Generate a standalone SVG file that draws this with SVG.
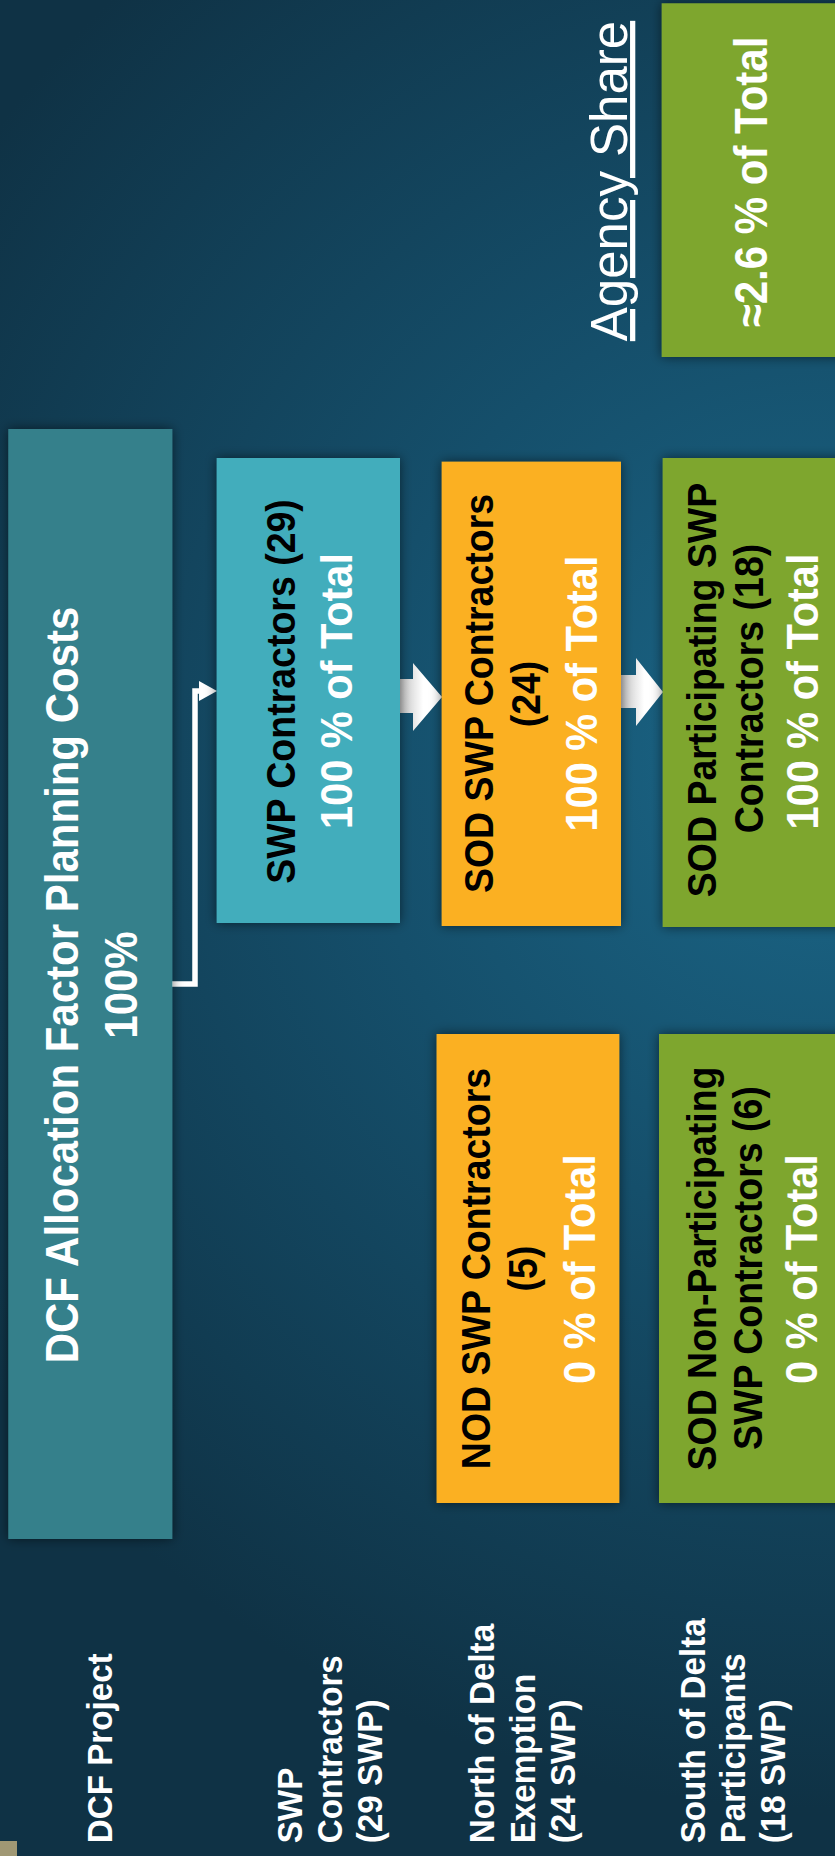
<svg xmlns="http://www.w3.org/2000/svg" width="835" height="1856" viewBox="0 0 835 1856">
<defs>
<radialGradient id="bg" cx="835" cy="760" r="1050" gradientUnits="userSpaceOnUse">
<stop offset="0" stop-color="#1B6788"/>
<stop offset="0.45" stop-color="#154F6B"/>
<stop offset="1" stop-color="#0F3245"/>
</radialGradient>
<linearGradient id="arr" x1="0" y1="0" x2="1" y2="0">
<stop offset="0" stop-color="#c4c4c4"/>
<stop offset="0.55" stop-color="#ffffff"/>
<stop offset="1" stop-color="#ffffff"/>
</linearGradient>
<filter id="sh" x="-20%" y="-20%" width="140%" height="140%">
<feDropShadow dx="0" dy="0" stdDeviation="6" flood-color="#000" flood-opacity="0.55"/>
</filter>
<marker id="tri" markerUnits="userSpaceOnUse" markerWidth="18" markerHeight="20" refX="0" refY="10" orient="auto">
<path d="M0,0 L18,10 L0,20 z" fill="#fff"/>
</marker>
<style>
.t{font-family:"Liberation Sans",Arial,Helvetica,sans-serif;font-weight:bold}
.r{font-family:"Liberation Sans",Arial,Helvetica,sans-serif;font-weight:normal}
.w{fill:#fff}
.k{fill:#000}
.box{filter:url(#sh)}
.m{text-anchor:middle}
.s{text-anchor:start}
.f1{font-size:37.5px}
.f2{font-size:41.5px}
.f3{font-size:42px}
.f4{font-size:33.2px}
</style>
</defs>
<rect width="835" height="1856" fill="url(#bg)"/>
<rect x="0" y="1841" width="17" height="15" fill="#A09874"/>

<g id="connectors">
<path d="M172,984 H195 V691 H199" fill="none" stroke="#fff" stroke-width="5.5" marker-end="url(#tri)"/>
<polygon points="400,679 413,679 413,663 442,697 413,731 413,713 400,713" fill="url(#arr)"/>
<polygon points="621,675 636,675 636,658 663,692 636,726 636,708 621,708" fill="url(#arr)"/>
</g>

<g id="agency-share">
<text class="r w m" font-size="51" text-decoration="underline" transform="translate(627,181) rotate(-90) scale(1,1.03)">Agency Share</text>
</g>

<g id="agency-share-box">
<rect class="box" x="661.7" y="3.3" width="190" height="353.7" fill="#7EA62E"/>
<text class="t w m f3" transform="translate(767,182) rotate(-90) scale(1,1.08)">≈2.6 % of Total</text>
</g>

<g id="dcf-project">
<rect class="box" x="8.3" y="429" width="164" height="1110" fill="#35808B"/>
<text class="t w m f3" transform="translate(78,985) rotate(-90) scale(1,1.08)">DCF Allocation Factor Planning Costs</text>
<text class="t w m f3" transform="translate(137,985) rotate(-90) scale(1,1.08)">100%</text>
</g>

<g id="swp-contractors">
<rect class="box" x="216.7" y="458" width="183.3" height="465" fill="#42ADBC"/>
<text class="t k m f1" transform="translate(295,691.5) rotate(-90) scale(1,1.08)">SWP Contractors (29)</text>
<text class="t w m f2" transform="translate(351.7,691) rotate(-90) scale(1,1.08)">100 % of Total</text>
</g>

<g id="sod-swp-contractors">
<rect class="box" x="441.7" y="461.7" width="179.3" height="464.3" fill="#FBB021"/>
<text class="t k m f1" transform="translate(493.3,693.5) rotate(-90) scale(1,1.08)">SOD SWP Contractors</text>
<text class="t k m f1" transform="translate(540,694) rotate(-90) scale(1,1.08)">(24)</text>
<text class="t w m f2" transform="translate(596.7,693.5) rotate(-90) scale(1,1.08)">100 % of Total</text>
</g>

<g id="sod-participating">
<rect class="box" x="662.7" y="458" width="190" height="469" fill="#7EA62E"/>
<text class="t k m f1" transform="translate(716,690) rotate(-90) scale(1,1.08)">SOD Participating SWP</text>
<text class="t k m f1" transform="translate(763.3,688.5) rotate(-90) scale(1,1.08)">Contractors (18)</text>
<text class="t w m f2" transform="translate(818.3,691.5) rotate(-90) scale(1,1.08)">100 % of Total</text>
</g>

<g id="nod-swp-contractors">
<rect class="box" x="436.6" y="1034" width="182.7" height="469" fill="#FBB021"/>
<text class="t k m f1" transform="translate(490,1268.5) rotate(-90) scale(1,1.08)">NOD SWP Contractors</text>
<text class="t k m f1" transform="translate(537,1268.5) rotate(-90) scale(1,1.08)">(5)</text>
<text class="t w m f2" transform="translate(595.3,1269) rotate(-90) scale(1,1.08)">0 % of Total</text>
</g>

<g id="sod-non-participating">
<rect class="box" x="659" y="1034" width="190" height="469" fill="#7EA62E"/>
<text class="t k m f1" transform="translate(716,1268.5) rotate(-90) scale(1,1.08)">SOD Non-Participating</text>
<text class="t k m f1" transform="translate(761.5,1268) rotate(-90) scale(1,1.08)">SWP Contractors (6)</text>
<text class="t w m f2" transform="translate(817,1269) rotate(-90) scale(1,1.08)">0 % of Total</text>
</g>

<g id="row-labels">
<text class="t w s f4" transform="translate(111.7,1843.3) rotate(-90) scale(1,1.08)">DCF Project</text>
<text class="t w s f4" transform="translate(301.7,1843.3) rotate(-90) scale(1,1.08)">SWP</text>
<text class="t w s f4" transform="translate(341.7,1843.3) rotate(-90) scale(1,1.08)">Contractors</text>
<text class="t w s f4" transform="translate(381.7,1843.3) rotate(-90) scale(1,1.08)">(29 SWP)</text>
<text class="t w s f4" transform="translate(494,1843.3) rotate(-90) scale(1,1.08)">North of Delta</text>
<text class="t w s f4" transform="translate(535,1843.3) rotate(-90) scale(1,1.08)">Exemption</text>
<text class="t w s f4" transform="translate(575,1843.3) rotate(-90) scale(1,1.08)">(24 SWP)</text>
<text class="t w s f4" transform="translate(705,1843.3) rotate(-90) scale(1,1.08)">South of Delta</text>
<text class="t w s f4" transform="translate(745,1843.3) rotate(-90) scale(1,1.08)">Participants</text>
<text class="t w s f4" transform="translate(785,1843.3) rotate(-90) scale(1,1.08)">(18 SWP)</text>
</g>
</svg>
